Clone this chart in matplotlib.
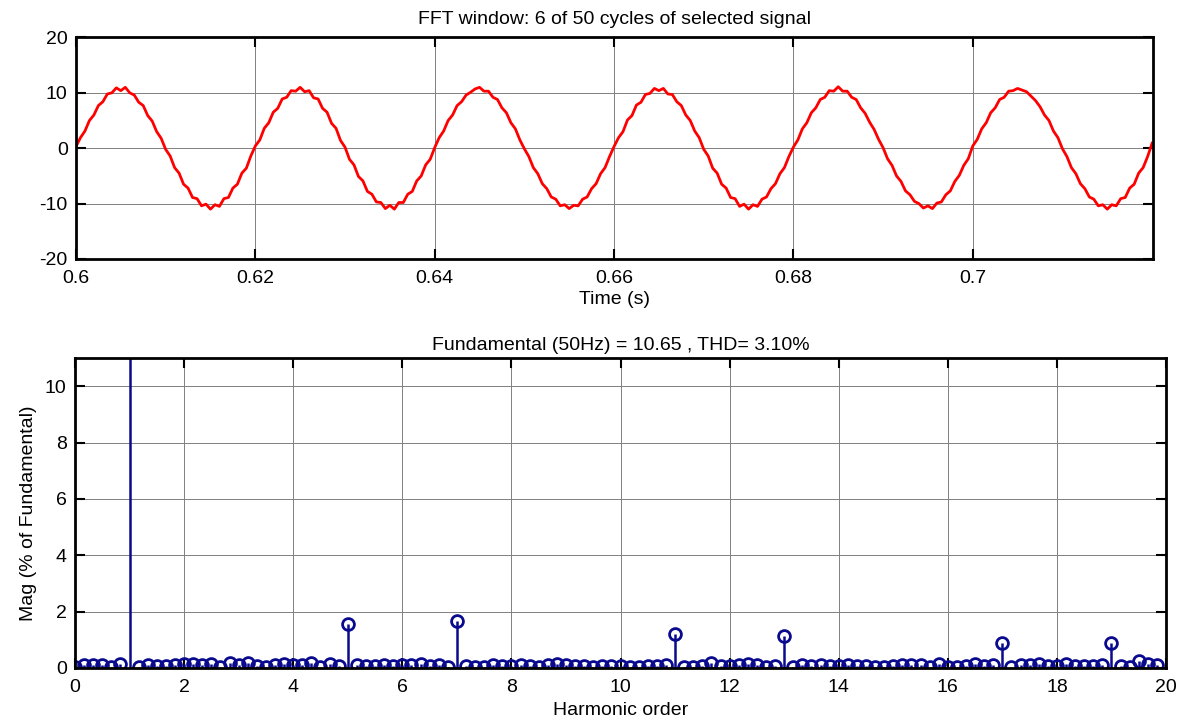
import numpy as np
import matplotlib
matplotlib.use("Agg")
import matplotlib.pyplot as plt

plt.rcParams['font.family'] = ['Liberation Sans', 'DejaVu Sans']
plt.rcParams['axes.unicode_minus'] = False

# Time signal, sampled every 0.5 ms from 0.6 s to 0.72 s (6 cycles of 50 Hz)
t_start = 0.6
t_stop = 0.72
signal = [
    0.3, 1.9, 3.1, 5.0, 6.0, 7.7, 8.4, 9.8, 10.0, 10.9, 10.4, 11.0, 10.0, 9.6, 8.3, 7.7, 5.9, 4.9, 3.0, 1.8,
    -0.2, -1.4, -3.5, -4.5, -6.5, -7.2, -8.9, -9.1, -10.4, -10.1, -11.0, -10.2, -10.5, -9.1, -8.9, -7.2, -6.5, -4.5, -3.6, -1.4,
    0.4, 1.5, 3.6, 4.6, 6.5, 7.2, 8.9, 9.2, 10.4, 10.3, 11.0, 10.2, 10.4, 9.1, 8.9, 7.2, 6.5, 4.5, 3.6, 1.4,
    0.2, -2.0, -3.0, -5.1, -5.9, -7.8, -8.3, -9.7, -9.8, -10.9, -10.3, -11.0, -9.8, -9.8, -8.3, -7.8, -5.9, -5.0, -3.0, -2.0,
    0.1, 1.9, 3.1, 5.0, 6.0, 7.7, 8.4, 9.6, 10.1, 10.7, 11.0, 10.3, 10.3, 9.2, 8.8, 7.3, 6.4, 4.6, 3.5, 1.5,
    -0.1, -1.5, -3.5, -4.6, -6.4, -7.3, -8.8, -9.2, -10.4, -10.2, -10.9, -10.3, -10.4, -9.2, -8.8, -7.3, -6.4, -4.6, -3.5, -1.5,
    0.3, 1.9, 3.0, 5.1, 5.9, 7.8, 8.3, 9.7, 9.9, 10.8, 10.4, 10.8, 9.8, 9.7, 8.4, 7.7, 6.0, 5.0, 3.1, 1.9,
    -0.2, -1.4, -3.6, -4.5, -6.5, -7.2, -8.9, -9.1, -10.5, -10.1, -11.0, -10.2, -10.5, -9.2, -8.8, -7.3, -6.4, -4.6, -3.5, -1.5,
    0.2, 1.5, 3.5, 4.6, 6.4, 7.3, 8.8, 9.2, 10.4, 10.3, 11.1, 10.3, 10.3, 9.2, 8.8, 7.3, 6.3, 4.7, 3.4, 1.6,
    0.1, -1.9, -3.1, -5.0, -6.0, -7.7, -8.4, -9.6, -10.0, -10.8, -10.4, -10.9, -9.9, -9.7, -8.4, -7.7, -6.0, -4.9, -3.1, -1.9,
    0.4, 1.6, 3.5, 4.6, 6.4, 7.3, 8.8, 9.2, 10.3, 10.4, 10.8, 10.5, 10.2, 9.4, 8.6, 7.5, 6.0, 5.0, 3.1, 1.9,
    -0.1, -1.5, -3.5, -4.6, -6.4, -7.3, -8.8, -9.2, -10.4, -10.2, -11.0, -10.2, -10.4, -9.1, -8.9, -7.2, -6.5, -4.5, -3.5, -1.5,
    0.9,
]

# Spectrum, % of fundamental, at harmonic orders 0, 1/6, 2/6, ... (6-cycle window)
orders_per_harmonic = 6
mag = [
    0.05, 0.12, 0.12, 0.10, 0.05, 0.13, 100.0, 0.05, 0.10, 0.08, 0.08, 0.12,
    0.15, 0.15, 0.12, 0.15, 0.05, 0.16, 0.12, 0.16, 0.08, 0.05, 0.10, 0.13,
    0.10, 0.10, 0.18, 0.03, 0.13, 0.08, 1.55, 0.12, 0.08, 0.08, 0.12, 0.08,
    0.10, 0.12, 0.15, 0.06, 0.10, 0.05, 1.65, 0.08, 0.05, 0.05, 0.12, 0.08,
    0.08, 0.10, 0.08, 0.05, 0.10, 0.15, 0.12, 0.08, 0.06, 0.05, 0.08, 0.08,
    0.08, 0.05, 0.03, 0.08, 0.08, 0.10, 1.20, 0.05, 0.03, 0.08, 0.18, 0.06,
    0.06, 0.10, 0.15, 0.10, 0.05, 0.08, 1.15, 0.05, 0.12, 0.08, 0.10, 0.08,
    0.08, 0.10, 0.08, 0.06, 0.03, 0.03, 0.06, 0.10, 0.12, 0.10, 0.05, 0.15,
    0.03, 0.03, 0.06, 0.13, 0.06, 0.10, 0.88, 0.05, 0.10, 0.10, 0.13, 0.08,
    0.08, 0.15, 0.08, 0.08, 0.06, 0.10, 0.88, 0.06, 0.03, 0.25, 0.15, 0.12,
]

top_title = 'FFT window: 6 of 50 cycles of selected signal'
bottom_title = 'Fundamental (50Hz) = 10.65 , THD= 3.10%'

t = np.linspace(t_start, t_stop, len(signal))
order = np.arange(len(mag)) / orders_per_harmonic

fs = 14
fig = plt.figure(figsize=(11.85, 7.22), dpi=100)
ax1 = fig.add_axes([0.0641, 0.6413, 0.9089, 0.3068])
ax2 = fig.add_axes([0.0633, 0.0748, 0.9207, 0.4294])

ax1.plot(t, signal, color='#ff0000', linewidth=2.0)
ax1.set_xlim(0.6, 0.7201)
ax1.set_ylim(-20, 20)
ax1.set_xticks([0.6, 0.62, 0.64, 0.66, 0.68, 0.7])
ax1.set_xticklabels(['0.6', '0.62', '0.64', '0.66', '0.68', '0.7'])
ax1.set_yticks([-20, -10, 0, 10, 20])
ax1.set_title(top_title, fontsize=fs, pad=9.5)

markerline, stemlines, baseline = ax2.stem(order, mag, basefmt=' ')
stemlines.set_color('#0a0a8f')
stemlines.set_linewidth(1.8)
markerline.set_color('#0a0a8f')
markerline.set_markerfacecolor('none')
markerline.set_markersize(8.5)
markerline.set_markeredgewidth(2.0)
ax2.set_xlim(0, 20)
ax2.set_ylim(0, 11)
ax2.set_xticks(np.arange(0, 21, 2))
ax2.set_yticks(np.arange(0, 11, 2))
ax2.set_title(bottom_title, fontsize=fs, pad=5.5)

for ax in (ax1, ax2):
    ax.grid(True, color='#808080', linewidth=0.7)
    ax.set_axisbelow(True)
    for s in ax.spines.values():
        s.set_linewidth(2.0)
    ax.tick_params(direction='in', length=7, width=1.5, labelsize=fs,
                   top=True, right=True, pad=6)
    ax.tick_params(axis='x', pad=8)

ax1.set_xlabel('Time (s)', fontsize=fs, labelpad=3)
ax2.set_xlabel('Harmonic order', fontsize=fs, labelpad=4)
ax2.set_ylabel('Mag (% of Fundamental)', fontsize=fs, labelpad=6)

fig.savefig('out.png', dpi=100)
